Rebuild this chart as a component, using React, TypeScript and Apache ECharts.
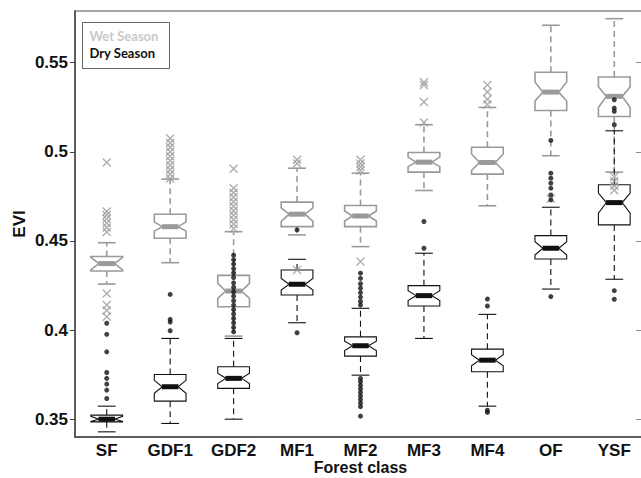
import React, { useEffect, useRef } from "react";
import * as echarts from "echarts";

const categories = ["SF", "GDF1", "GDF2", "MF1", "MF2", "MF3", "MF4", "OF", "YSF"];
const yTicks = [0.35, 0.4, 0.45, 0.5, 0.55];

// [lowWhisker, q1, notchLow, median, notchHigh, q3, highWhisker]
const wetStats = [
  [0.4258, 0.4331, 0.4338, 0.4373, 0.4408, 0.4413, 0.449],
  [0.4378, 0.4515, 0.4555, 0.458, 0.4607, 0.465, 0.4847],
  [0.3966, 0.4131, 0.4178, 0.4219, 0.4262, 0.4307, 0.4552],
  [0.4534, 0.458, 0.461, 0.465, 0.4685, 0.4718, 0.4908],
  [0.4468, 0.458, 0.4612, 0.464, 0.4668, 0.4699, 0.488],
  [0.4783, 0.4886, 0.4917, 0.4942, 0.497, 0.4996, 0.5152],
  [0.4697, 0.4875, 0.4895, 0.494, 0.4988, 0.5026, 0.5249],
  [0.4978, 0.5232, 0.5285, 0.5335, 0.5392, 0.5446, 0.571],
  [0.4886, 0.5198, 0.5248, 0.5311, 0.5365, 0.542, 0.5747],
];

const dryStats = [
  [0.3429, 0.3485, 0.3487, 0.35, 0.3516, 0.3523, 0.3573],
  [0.3476, 0.3601, 0.3645, 0.3682, 0.3718, 0.3751, 0.3953],
  [0.35, 0.3673, 0.37, 0.3729, 0.3758, 0.3794, 0.3953],
  [0.4041, 0.4197, 0.4225, 0.4257, 0.429, 0.4337, 0.4397],
  [0.3747, 0.3854, 0.3885, 0.3912, 0.3938, 0.3962, 0.4122],
  [0.3953, 0.4135, 0.4165, 0.4193, 0.4221, 0.4249, 0.4431],
  [0.3573, 0.3766, 0.38, 0.3831, 0.3862, 0.3893, 0.4088],
  [0.423, 0.4399, 0.4421, 0.4459, 0.4496, 0.453, 0.4689],
  [0.4285, 0.459, 0.4656, 0.4715, 0.4768, 0.4815, 0.5118],
];

const wetOutliers = [
  [0.494, 0.4665, 0.4645, 0.4625, 0.46, 0.4575, 0.455, 0.4205, 0.414, 0.411, 0.4075],
  [0.5075, 0.505, 0.5025, 0.5, 0.4975, 0.495, 0.4925, 0.49, 0.4875, 0.485],
  [0.4905, 0.4795, 0.477, 0.4745, 0.472, 0.4695, 0.467, 0.4645, 0.462, 0.4595, 0.457],
  [0.4955, 0.4935, 0.4337],
  [0.4955, 0.4935, 0.4915, 0.4895, 0.4384],
  [0.539, 0.5375, 0.528, 0.5165],
  [0.5375, 0.5335, 0.5295, 0.5265],
  [0.4736],
  [0.486, 0.4835, 0.481, 0.4785],
];

const dryOutliers = [
  [0.4038, 0.3976, 0.3878, 0.3762, 0.3729, 0.3697, 0.3663, 0.3616],
  [0.42, 0.406, 0.4045, 0.3996],
  [0.442, 0.4395, 0.437, 0.4345, 0.432, 0.4295, 0.4265, 0.424, 0.4215, 0.419, 0.4165, 0.414, 0.4115, 0.409, 0.4065, 0.404, 0.4015, 0.399],
  [0.4562, 0.3985],
  [0.4319, 0.429, 0.426, 0.4235, 0.421, 0.4185, 0.416, 0.414, 0.3728, 0.371, 0.369, 0.367, 0.365, 0.363, 0.361, 0.359, 0.357, 0.3517],
  [0.4609, 0.4459],
  [0.4174, 0.4135, 0.355, 0.3538],
  [0.5064, 0.488, 0.4852, 0.4824, 0.4796, 0.4758, 0.473, 0.4188],
  [0.5292, 0.5245, 0.5227, 0.5152, 0.4221, 0.4173],
];

const WET = "#9a9a9a";
const DRY = "#111111";
const FONT = "'Liberation Sans Narrow', 'Liberation Sans', Arial, sans-serif";

function makeRender(color: string, lw: number) {
  return (params: any, api: any) => {
    const idx = api.value(0);
    const p = (v: number) => api.coord([idx, v]);
    const bw = api.size([1, 0])[0];
    const cx = p(api.value(4))[0];
    const w = bw * 0.25;
    const nw = bw * 0.125;
    const cw = bw * 0.14;
    const mw = bw * 0.13;
    const yWl = p(api.value(1))[1];
    const yQ1 = p(api.value(2))[1];
    const yNl = p(api.value(3))[1];
    const yMed = p(api.value(4))[1];
    const yNh = p(api.value(5))[1];
    const yQ3 = p(api.value(6))[1];
    const yWh = p(api.value(7))[1];
    const solid = { stroke: color, lineWidth: lw, fill: "none" };
    const dashed = { stroke: color, lineWidth: lw, lineDash: [6, 4], fill: "none" };
    return {
      type: "group",
      children: [
        { type: "line", shape: { x1: cx, y1: yQ3, x2: cx, y2: yWh }, style: dashed },
        { type: "line", shape: { x1: cx, y1: yQ1, x2: cx, y2: yWl }, style: dashed },
        { type: "line", shape: { x1: cx - cw, y1: yWh, x2: cx + cw, y2: yWh }, style: solid },
        { type: "line", shape: { x1: cx - cw, y1: yWl, x2: cx + cw, y2: yWl }, style: solid },
        {
          type: "polygon",
          shape: {
            points: [
              [cx - w, yQ3],
              [cx + w, yQ3],
              [cx + w, yNh],
              [cx + nw, yMed],
              [cx + w, yNl],
              [cx + w, yQ1],
              [cx - w, yQ1],
              [cx - w, yNl],
              [cx - nw, yMed],
              [cx - w, yNh],
            ],
          },
          style: solid,
        },
        { type: "rect", shape: { x: cx - mw, y: yMed - 2.5, width: mw * 2, height: 5 }, style: { fill: color } },
      ],
    };
  };
}

export default function App() {
  const ref = useRef<HTMLDivElement>(null);
  useEffect(() => {
    if (!ref.current) return;
    const chart = echarts.init(ref.current, null, { renderer: "svg" });
    const wetData = wetStats.map((s, i) => [i, ...s]);
    const dryData = dryStats.map((s, i) => [i, ...s]);
    const wetOut: number[][] = [];
    wetOutliers.forEach((arr, i) => arr.forEach((v) => wetOut.push([i, v])));
    const dryOut: number[][] = [];
    dryOutliers.forEach((arr, i) => arr.forEach((v) => dryOut.push([i, v])));
    const option: any = {
      animation: false,
      backgroundColor: "#ffffff",
      grid: {
        left: 75,
        right: -5,
        top: 11,
        bottom: 41,
        show: true,
        borderColor: "#8a8a8a",
        borderWidth: 1.5,
        containLabel: false,
        outerBoundsMode: "none",
      },
      xAxis: {
        type: "category",
        data: categories,
        boundaryGap: true,
        name: "Forest class",
        nameLocation: "middle",
        nameGap: 22,
        nameMoveOverlap: false,
        nameTextStyle: { fontFamily: FONT, fontSize: 16, fontWeight: "bold", color: "#111" },
        axisLine: { lineStyle: { color: "#444", width: 1.5 } },
        axisTick: { show: false },
        axisLabel: { fontFamily: FONT, fontSize: 17, fontWeight: "bold", color: "#111", margin: 5 },
      },
      yAxis: [
        {
          type: "value",
          min: 0.34,
          max: 0.579,
          name: "EVI",
          nameLocation: "middle",
          nameGap: 47,
          nameMoveOverlap: false,
          nameTextStyle: { fontFamily: FONT, fontSize: 17, fontWeight: "bold", color: "#111" },
          splitLine: { show: false },
          axisLine: { show: true, lineStyle: { color: "#444", width: 1.5 } },
          axisTick: { show: true, length: 5, customValues: yTicks, lineStyle: { color: "#444" } },
          axisLabel: {
            customValues: yTicks,
            fontFamily: FONT,
            fontSize: 17,
            fontWeight: "bold",
            color: "#111",
            margin: 7,
            formatter: (v: number) => String(v),
          },
        },
        {
          type: "value",
          min: 0.34,
          max: 0.579,
          position: "right",
          splitLine: { show: false },
          axisLine: { show: true, lineStyle: { color: "#8a8a8a" } },
          axisTick: { show: true, inside: true, length: 10, customValues: yTicks, lineStyle: { color: "#8a8a8a" } },
          axisLabel: { show: false },
        },
      ],
      graphic: [
        {
          type: "group",
          left: 82,
          top: 22,
          children: [
            { type: "rect", shape: { x: 0, y: 0, width: 87, height: 46 }, style: { fill: "#fff", stroke: "#666", lineWidth: 1 } },
            { type: "text", x: 7, y: 7, style: { text: "Wet Season", fill: "#c8c8c8", font: "bold 13px Lato, 'Open Sans', sans-serif" } },
            { type: "text", x: 7, y: 24, style: { text: "Dry Season", fill: "#111", font: "bold 13px Lato, 'Open Sans', sans-serif" } },
          ],
        },
      ],
      series: [
        {
          type: "custom",
          name: "Wet Season",
          data: wetData,
          encode: { x: 0, y: [1, 2, 3, 4, 5, 6, 7] },
          renderItem: makeRender(WET, 1.6),
          z: 2,
        },
        {
          type: "custom",
          name: "Dry Season",
          data: dryData,
          encode: { x: 0, y: [1, 2, 3, 4, 5, 6, 7] },
          renderItem: makeRender(DRY, 1.1),
          z: 3,
        },
        {
          type: "scatter",
          name: "Wet outliers",
          data: wetOut,
          symbol: "path://M0,0L10,10M10,0L0,10",
          symbolSize: 8,
          itemStyle: { color: "none", borderColor: WET, borderWidth: 1.4 },
          z: 4,
        },
        {
          type: "scatter",
          name: "Dry outliers",
          data: dryOut,
          symbol: "circle",
          symbolSize: 5,
          itemStyle: { color: DRY },
          z: 5,
        },
      ],
    };
    chart.setOption(option);
    return () => chart.dispose();
  }, []);
  return <div ref={ref} style={{ position: "fixed", left: 0, top: 0, width: 641, height: 478 }} />;
}
